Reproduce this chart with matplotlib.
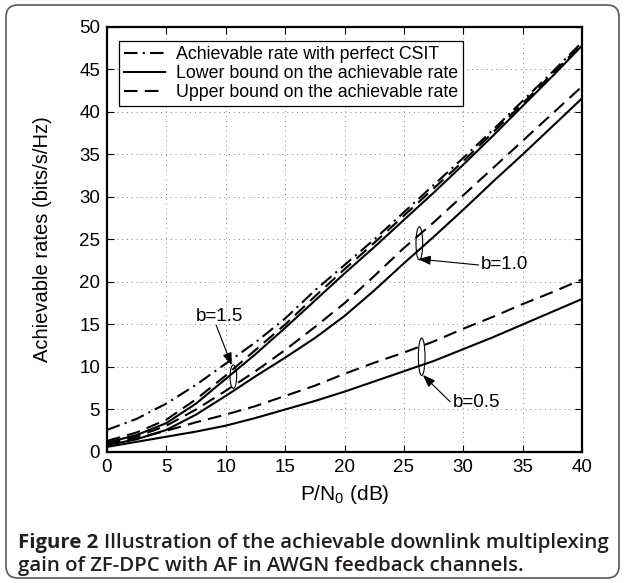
import numpy as np
import matplotlib
matplotlib.use('Agg')
import matplotlib.pyplot as plt
from matplotlib.patches import Ellipse, FancyBboxPatch

plt.rcParams['font.family'] = ['Liberation Sans', 'DejaVu Sans']
plt.rcParams['mathtext.fontset'] = 'custom'
plt.rcParams['mathtext.rm'] = 'Liberation Sans'
plt.rcParams['mathtext.it'] = 'Liberation Sans:italic'

# P/N0 in dB
snr = [0, 2.5, 5, 7.5, 10, 12.5, 15, 17.5, 20, 22.5, 25, 27.5, 30, 32.5, 35, 37.5, 40]

# perfect CSIT
rate_csit = [2.6, 3.9, 5.7, 7.9, 10.4, 12.9, 15.7, 19.0, 22.0, 25.0, 28.2, 31.4, 34.6, 37.9, 41.3, 44.7, 48.2]
# b = 1.5
upper_15 = [1.3, 2.3, 3.8, 6.2, 9.0, 12.0, 15.0, 18.3, 21.5, 24.6, 27.8, 31.0, 34.2, 37.6, 41.0, 44.5, 48.0]
lower_15 = [1.1, 2.0, 3.4, 5.7, 8.6, 11.5, 14.6, 17.8, 21.0, 24.1, 27.3, 30.5, 33.8, 37.2, 40.7, 44.2, 47.8]
# b = 1.0
upper_10 = [1.0, 1.8, 3.1, 5.0, 7.2, 9.5, 12.0, 14.7, 17.5, 20.7, 24.0, 27.0, 30.2, 33.4, 36.6, 39.8, 43.0]
lower_10 = [0.8, 1.5, 2.6, 4.4, 6.6, 8.9, 11.1, 13.4, 16.0, 19.0, 22.2, 25.3, 28.5, 31.8, 35.0, 38.3, 41.6]
# b = 0.5
upper_05 = [0.9, 1.6, 2.5, 3.5, 4.4, 5.4, 6.6, 7.8, 9.2, 10.5, 11.7, 13.0, 14.5, 15.9, 17.4, 18.8, 20.3]
lower_05 = [0.6, 1.2, 1.8, 2.4, 3.1, 4.0, 5.0, 6.0, 7.1, 8.3, 9.5, 10.7, 12.1, 13.5, 15.0, 16.5, 18.0]

legend_labels = ['Achievable rate with perfect CSIT',
                 'Lower bound on the achievable rate',
                 'Upper bound on the achievable rate']

fig = plt.figure(figsize=(6.25, 5.83), dpi=100)
ax = fig.add_axes([0.1712, 0.2247, 0.76, 0.729])

lw = 1.5
dash = (6.5, 3.5)
dashdot = (6.5, 2.5, 1, 2.5)

l1, = ax.plot(snr, rate_csit, color='k', lw=lw, dashes=dashdot)
l2, = ax.plot(snr, lower_15, color='k', lw=lw)
l3, = ax.plot(snr, upper_15, color='k', lw=lw, dashes=dash)
ax.plot(snr, lower_10, color='k', lw=lw)
ax.plot(snr, upper_10, color='k', lw=lw, dashes=dash)
ax.plot(snr, lower_05, color='k', lw=lw)
ax.plot(snr, upper_05, color='k', lw=lw, dashes=dash)

ax.set_xlim(0, 40)
ax.set_ylim(0, 50)
ax.set_xticks(np.arange(0, 41, 5))
ax.set_yticks(np.arange(0, 51, 5))
ax.grid(True, linestyle=(0, (1, 4)), color='0.5', lw=0.7)
ax.tick_params(direction='in', top=True, right=True, length=5, width=0.8,
               labelsize=13.5, pad=5)
for s in ax.spines.values():
    s.set_linewidth(1.6)

ax.set_xlabel(r'P/N$_\mathregular{0}$ (dB)', fontsize=15)
ax.xaxis.label.set_va('center')
ax.xaxis.set_label_coords(0.5, -0.099)
ax.set_ylabel('Achievable rates (bits/s/Hz)', fontsize=14.5)
ax.yaxis.label.set_va('center')
ax.yaxis.set_label_coords(-0.135, 0.5)

leg = ax.legend([l1, l2, l3], legend_labels, loc='upper left',
                bbox_to_anchor=(0.025, 0.967), fontsize=12.8, fancybox=False,
                framealpha=1, edgecolor='k', handlelength=2.3,
                labelspacing=0.1, borderpad=0.3, handletextpad=0.6,
                borderaxespad=0)
leg.get_frame().set_linewidth(0.9)

# annotations: ellipses around the curve pairs and arrows to the labels
arrow = dict(arrowstyle='-|>,head_length=0.75,head_width=0.28', lw=0.8,
             color='k', shrinkA=0, shrinkB=0)
for cx, cy, h in [(10.64, 8.86, 2.75), (26.3, 24.55, 3.9), (26.5, 11.2, 4.4)]:
    ax.add_patch(Ellipse((cx, cy), 0.56, h, fill=False, lw=0.8, color='k'))

ax.annotate('', xy=(10.5, 10.2), xytext=(9.2, 14.9), arrowprops=arrow)
ax.text(9.5, 15.9, 'b=1.5', fontsize=13.5, ha='center', va='center')
ax.annotate('', xy=(26.2, 22.7), xytext=(31.3, 22.0), arrowprops=arrow)
ax.text(31.5, 22.0, 'b=1.0', fontsize=13.5, ha='left', va='center')
ax.annotate('', xy=(26.6, 9.06), xytext=(28.9, 5.9), arrowprops=arrow)
ax.text(29.1, 5.85, 'b=0.5', fontsize=13.5, ha='left', va='center')

# outer frame and caption
frame = FancyBboxPatch((0.06, 0.05), 6.13, 5.73,
                       boxstyle='round,pad=0,rounding_size=0.12',
                       transform=fig.dpi_scale_trans, fill=False,
                       edgecolor='0.35', lw=1.2)
fig.add_artist(frame)

cap_col = '#231f20'
t1 = fig.text(18 / 625, 1 - 548 / 583, 'Figure 2', fontsize=14.7,
              family='Open Sans', weight='bold', color=cap_col, va='baseline')
ax.annotate('Illustration of the achievable downlink multiplexing',
            xy=(1, 0), xycoords=t1, xytext=(4, 0), textcoords='offset points',
            fontsize=14.7, family='Open Sans', weight='semibold', color=cap_col,
            va='bottom', annotation_clip=False)
fig.text(18 / 625, 1 - 571 / 583, 'gain of ZF-DPC with AF in AWGN feedback channels.',
         fontsize=14.7, family='Open Sans', weight='semibold', color=cap_col,
         va='baseline')

fig.savefig('out.png', dpi=100)
